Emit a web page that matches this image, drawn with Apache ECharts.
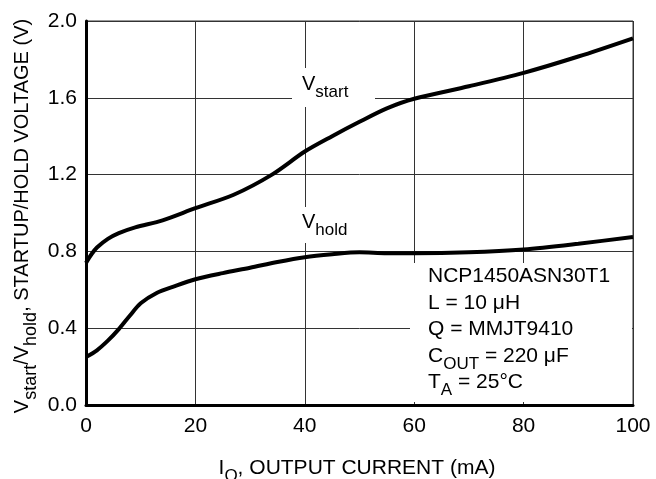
<!DOCTYPE html>
<html>
<head>
<meta charset="utf-8">
<script src="https://cdn.jsdelivr.net/npm/echarts@6/dist/echarts.min.js"></script>
<style>
html,body{margin:0;padding:0;background:#fff;}
#chart{width:656px;height:479px;}
</style>
</head>
<body>
<div id="chart"></div>
<script>
// Data
var xTicks = [0, 20, 40, 60, 80, 100];
var yTicks = [0.0, 0.4, 0.8, 1.2, 1.6, 2.0];

var startCurrent = [0, 1, 2, 4, 6, 9, 14, 20, 27, 34, 40, 45, 50, 55, 60, 70, 80, 90, 100];
var startVoltage = [0.74, 0.785, 0.82, 0.865, 0.895, 0.925, 0.962, 1.025, 1.095, 1.20, 1.32, 1.40, 1.475, 1.545, 1.595, 1.66, 1.73, 1.815, 1.91];

var holdCurrent = [0, 2, 4, 6, 8, 10, 13, 16, 20, 25, 30, 35, 40, 45, 50, 55, 60, 70, 80, 90, 100];
var holdVoltage = [0.25, 0.285, 0.335, 0.395, 0.465, 0.53, 0.585, 0.617, 0.655, 0.687, 0.715, 0.745, 0.77, 0.785, 0.795, 0.79, 0.79, 0.795, 0.81, 0.84, 0.875];

var annotationLines = [
  '{v|NCP1450ASN30T1}',
  '{v|L = 10 μH}',
  '{v|Q = MMJT9410}',
  '{v|C}{s|OUT}{v| = 220 μF}',
  '{v|T}{s|A}{v| = 25°C}'
];

function pairs(xs, ys) { return xs.map(function (x, i) { return [x, ys[i]]; }); }

var FONT = '"Liberation Sans", Arial, Helvetica, sans-serif';
function rich(main, sub) {
  return {
    v: { fontSize: main, fontFamily: FONT, fill: '#000', color: '#000', lineHeight: 22, verticalAlign: 'top' },
    s: { fontSize: sub, fontFamily: FONT, fill: '#000', color: '#000', lineHeight: 18, padding: [10, 0, 0, 0], verticalAlign: 'top' }
  };
}

var chart = echarts.init(document.getElementById('chart'), null, { renderer: 'canvas' });

var graphics = [
  // white boxes behind labels
  { type: 'rect', z: 1, shape: { x: 292, y: 68, width: 83, height: 39 }, style: { fill: '#fff' } },
  { type: 'rect', z: 1, shape: { x: 292, y: 207, width: 80, height: 36 }, style: { fill: '#fff' } },
  { type: 'rect', z: 1, shape: { x: 410, y: 263, width: 222, height: 139 }, style: { fill: '#fff' } },
  { type: 'text', z: 5, x: 302, y: 74, style: { text: '{v|V}{s|start}', rich: rich(20, 17), align: 'left', verticalAlign: 'top' } },
  { type: 'text', z: 5, x: 302, y: 212, style: { text: '{v|V}{s|hold}', rich: rich(20, 17), align: 'left', verticalAlign: 'top' } },
  // axis titles
  { type: 'text', z: 5, x: 357, y: 458, style: { text: '{v|I}{s|O}{v|, OUTPUT CURRENT (mA)}', rich: rich(21, 17), align: 'center', verticalAlign: 'top' } },
  { type: 'text', z: 5, x: 12, y: 216, rotation: Math.PI / 2, style: { text: '{v|V}{s|start}{v|/V}{s|hold}{v|, STARTUP/HOLD VOLTAGE (V)}', rich: rich(20, 18), align: 'center', verticalAlign: 'top' } }
];
annotationLines.forEach(function (t, i) {
  graphics.push({ type: 'text', z: 5, x: 428, y: 266 + i * 26.5, style: { text: t, rich: rich(21, 17), align: 'left', verticalAlign: 'top' } });
});

chart.setOption({
  animation: false,
  backgroundColor: '#fff',
  grid: { left: 86, right: 23, top: 21, bottom: 74, show: true, borderColor: '#333', borderWidth: 1, backgroundColor: 'transparent' },
  xAxis: {
    type: 'value', min: xTicks[0], max: xTicks[xTicks.length - 1], interval: 20,
    axisLine: { show: true, onZero: false, lineStyle: { color: '#000', width: 3 } },
    axisTick: { show: false },
    splitLine: { show: true, lineStyle: { color: '#333', width: 1 } },
    axisLabel: { color: '#000', fontSize: 21, fontFamily: FONT, margin: 11 }
  },
  yAxis: {
    type: 'value', min: yTicks[0], max: yTicks[yTicks.length - 1], interval: 0.4,
    axisLine: { show: true, onZero: false, lineStyle: { color: '#000', width: 3 } },
    axisTick: { show: false },
    splitLine: { show: true, lineStyle: { color: '#333', width: 1 } },
    axisLabel: { color: '#000', fontSize: 21, fontFamily: FONT, margin: 9, formatter: function (v) { return v.toFixed(1); } }
  },
  graphic: graphics,
  series: [
    { type: 'line', name: 'Vstart', data: pairs(startCurrent, startVoltage), smooth: 0.3, showSymbol: false, z: 3,
      lineStyle: { color: '#000', width: 4 } },
    { type: 'line', name: 'Vhold', data: pairs(holdCurrent, holdVoltage), smooth: 0.3, showSymbol: false, z: 3,
      lineStyle: { color: '#000', width: 4 } }
  ]
});
</script>
</body>
</html>
